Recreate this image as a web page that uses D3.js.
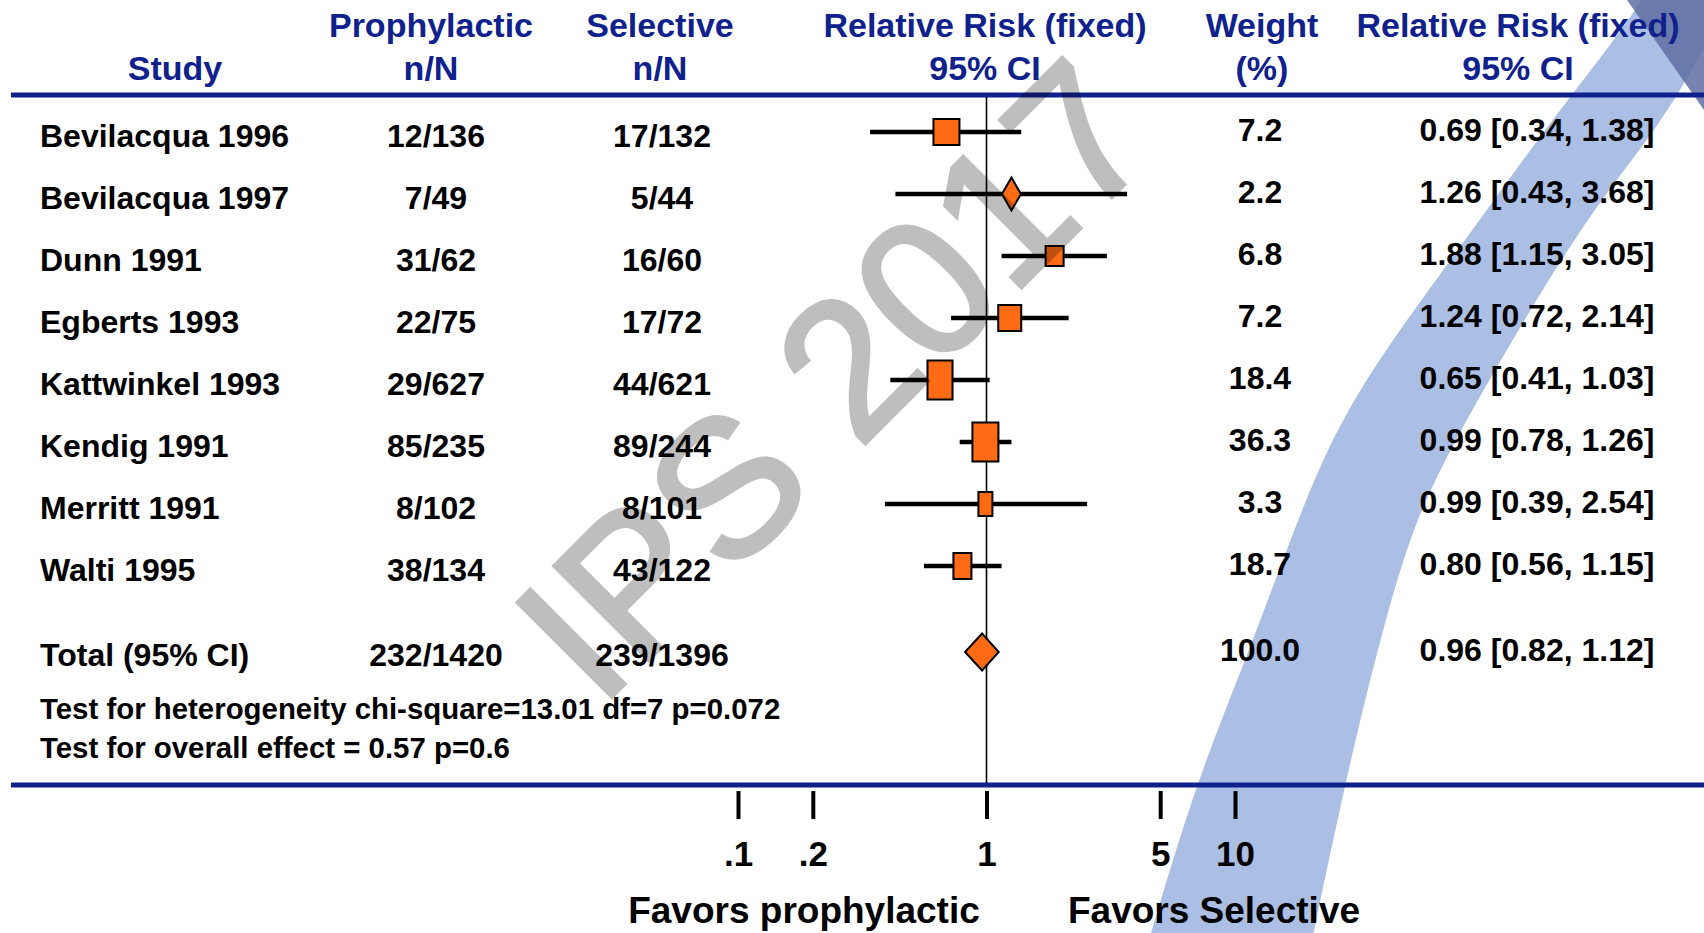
<!DOCTYPE html>
<html>
<head>
<meta charset="utf-8">
<script src="https://cdn.jsdelivr.net/npm/d3@7/dist/d3.min.js"></script>
<style>
	body { margin: 0; background: #fff; }
	svg { display: block; font-family: "Liberation Sans", Arial, sans-serif; font-weight: bold; }
</style>
</head>
<body>
<div id="forest"></div>
<script>
// Study data
var studies = ['Bevilacqua 1996', 'Bevilacqua 1997', 'Dunn 1991', 'Egberts 1993',
	'Kattwinkel 1993', 'Kendig 1991', 'Merritt 1991', 'Walti 1995'];
var prophylactic = ['12/136', '7/49', '31/62', '22/75', '29/627', '85/235', '8/102', '38/134'];
var selective = ['17/132', '5/44', '16/60', '17/72', '44/621', '89/244', '8/101', '43/122'];
var weights = [7.2, 2.2, 6.8, 7.2, 18.4, 36.3, 3.3, 18.7];
var rr = [0.69, 1.26, 1.88, 1.24, 0.65, 0.99, 0.99, 0.80];
var ciLow = [0.34, 0.43, 1.15, 0.72, 0.41, 0.78, 0.39, 0.56];
var ciHigh = [1.38, 3.68, 3.05, 2.14, 1.03, 1.26, 2.54, 1.15];

// Pooled row
var totalLabel = 'Total (95% CI)';
var totalProphylactic = '232/1420';
var totalSelective = '239/1396';
var totalWeight = 100.0;
var totalRR = [0.96, 0.82, 1.12];

var footnotes = ['Test for heterogeneity chi-square=13.01 df=7 p=0.072',
	'Test for overall effect = 0.57 p=0.6'];

// Axis ticks
var tickValues = [0.1, 0.2, 1, 5, 10];
var tickLabels = ['.1', '.2', '1', '5', '10'];

// Marker look per study (as drawn on the slide)
var markerShape = ['box', 'diamond', 'box', 'box', 'box', 'box', 'box', 'box'];
var markerW = [26, 19, 18, 23, 25, 26, 14, 18];
var markerH = [26, 33, 20, 26, 39, 39, 24, 26];

var fullWidth = 1704;
var fullHeight = 933;
var navy = '#0f218c';
var orange = '#ff6b14';

var svg = d3.select('#forest')
	.append('svg')
	.attr('width', fullWidth)
	.attr('height', fullHeight);

// Blue swoosh in the background
var swooshLeft = [[1149, 940], [1195, 785], [1250, 649], [1290, 540], [1330, 440], [1378, 360],
	[1436, 280], [1494, 200], [1552, 120], [1622, 30], [1645, -5]];
var swooshRight = [[1730, -5], [1704, 50], [1660, 125], [1600, 200], [1545, 285], [1495, 370],
	[1455, 440], [1415, 520], [1385, 620], [1350, 760], [1312, 940]];
var edge = d3.line().curve(d3.curveBasis);
svg.append('path')
	.attr('d', edge(swooshLeft) + edge(swooshRight).replace('M', 'L') + 'Z')
	.attr('fill', '#abbee4');
svg.append('path')
	.attr('d', 'M1627,0L1704,0L1704,110Z')
	.attr('fill', '#5f6ea3')
	.attr('opacity', 0.85);

// Scales
var xScale = d3.scaleLog()
	.domain([0.1, 10])
	.range([738, 1235]);
var rowY = d3.scaleLinear()
	.domain([0, studies.length - 1])
	.range([132, 566]);
var totalY = 652;

var col = {study: 40, pro: 436, sel: 662, weight: 1260, ci: 1537};

// Header
var header = svg.append('g').attr('fill', navy).attr('font-size', 34).attr('text-anchor', 'middle');
var headRows = [
	[['Prophylactic', 431], ['Selective', 660], ['Relative Risk (fixed)', 985], ['Weight', 1262], ['Relative Risk (fixed)', 1518]],
	[['Study', 175], ['n/N', 431], ['n/N', 660], ['95% CI', 985], ['(%)', 1262], ['95% CI', 1518]]
];
headRows.forEach(function(row, r) {
	row.forEach(function(h) {
		header.append('text').attr('x', h[1]).attr('y', r === 0 ? 37 : 80).text(h[0]);
	});
});

// Horizontal rules
svg.append('line').attr('x1', 11).attr('x2', fullWidth).attr('y1', 95).attr('y2', 95)
	.attr('stroke', navy).attr('stroke-width', 5);
svg.append('line').attr('x1', 11).attr('x2', fullWidth).attr('y1', 785).attr('y2', 785)
	.attr('stroke', navy).attr('stroke-width', 5);

// Line of no effect
svg.append('line')
	.attr('x1', xScale(1)).attr('x2', xScale(1))
	.attr('y1', 97).attr('y2', 783)
	.attr('stroke', '#000').attr('stroke-width', 1.6);

// Table body
var body = svg.append('g').attr('font-size', 32).attr('fill', '#000');
var fmt = function(v) { return v.toFixed(2); };

studies.forEach(function(s, i) {
	var y = rowY(i);
	body.append('text').attr('x', col.study).attr('y', y + 3).attr('dy', '0.36em').text(s);
	body.append('text').attr('x', col.pro).attr('y', y + 3).attr('dy', '0.36em').attr('text-anchor', 'middle').text(prophylactic[i]);
	body.append('text').attr('x', col.sel).attr('y', y + 3).attr('dy', '0.36em').attr('text-anchor', 'middle').text(selective[i]);
	body.append('text').attr('x', col.weight).attr('y', y - 3).attr('dy', '0.36em').attr('text-anchor', 'middle').text(weights[i].toFixed(1));
	body.append('text').attr('x', col.ci).attr('y', y - 3).attr('dy', '0.36em').attr('text-anchor', 'middle')
		.text(fmt(rr[i]) + ' [' + fmt(ciLow[i]) + ', ' + fmt(ciHigh[i]) + ']');
});

body.append('text').attr('x', col.study).attr('y', totalY + 2).attr('dy', '0.36em').text(totalLabel);
body.append('text').attr('x', col.pro).attr('y', totalY + 2).attr('dy', '0.36em').attr('text-anchor', 'middle').text(totalProphylactic);
body.append('text').attr('x', col.sel).attr('y', totalY + 2).attr('dy', '0.36em').attr('text-anchor', 'middle').text(totalSelective);
body.append('text').attr('x', col.weight).attr('y', totalY - 3).attr('dy', '0.36em').attr('text-anchor', 'middle').text(totalWeight.toFixed(1));
body.append('text').attr('x', col.ci).attr('y', totalY - 3).attr('dy', '0.36em').attr('text-anchor', 'middle')
	.text(fmt(totalRR[0]) + ' [' + fmt(totalRR[1]) + ', ' + fmt(totalRR[2]) + ']');

footnotes.forEach(function(t, i) {
	body.append('text').attr('x', col.study).attr('y', 708 + i * 39).attr('dy', '0.36em')
		.attr('font-size', 29.4).text(t);
});

// Confidence intervals
var g = svg.append('g');
g.selectAll('line.ci')
	.data(studies)
	.enter()
	.append('line')
	.attr('class', 'ci')
	.attr('x1', function(d, i) { return xScale(ciLow[i]); })
	.attr('x2', function(d, i) { return xScale(ciHigh[i]); })
	.attr('y1', function(d, i) { return rowY(i); })
	.attr('y2', function(d, i) { return rowY(i); })
	.attr('stroke', '#000')
	.attr('stroke-width', 4.5);

// Point estimates
g.selectAll('path.est')
	.data(studies)
	.enter()
	.append('path')
	.attr('class', 'est')
	.attr('d', function(d, i) {
		var cx = xScale(rr[i]), cy = rowY(i), w = markerW[i] / 2, h = markerH[i] / 2;
		if (markerShape[i] === 'diamond') {
			return 'M' + (cx - w) + ',' + cy + 'L' + cx + ',' + (cy - h) + 'L' + (cx + w) + ',' + cy + 'L' + cx + ',' + (cy + h) + 'Z';
		}
		return 'M' + (cx - w) + ',' + (cy - h) + 'H' + (cx + w) + 'V' + (cy + h) + 'H' + (cx - w) + 'Z';
	})
	.attr('fill', orange)
	.attr('stroke', '#000')
	.attr('stroke-width', 2);

// Pooled diamond
g.append('path')
	.attr('d', 'M' + xScale(totalRR[1]) + ',' + totalY + 'L' + xScale(totalRR[0]) + ',' + (totalY - 18.5) +
		'L' + xScale(totalRR[2]) + ',' + totalY + 'L' + xScale(totalRR[0]) + ',' + (totalY + 18.5) + 'Z')
	.attr('fill', orange)
	.attr('stroke', '#000')
	.attr('stroke-width', 2);

// Log axis
var axis = d3.axisBottom(xScale)
	.tickValues(tickValues)
	.tickFormat(function(d, i) { return tickLabels[i]; })
	.tickSize(28)
	.tickPadding(22);
var gAxis = svg.append('g')
	.attr('transform', 'translate(0,791)')
	.call(axis);
gAxis.select('.domain').remove();
gAxis.selectAll('.tick line').attr('stroke', '#000').attr('stroke-width', 4);
gAxis.selectAll('.tick text')
	.attr('fill', '#000')
	.attr('font-size', 35)
	.attr('font-family', '"Liberation Sans", Arial, sans-serif')
	.attr('font-weight', 'bold');

svg.append('text').attr('x', 804).attr('y', 910).attr('dy', '0.36em').attr('text-anchor', 'middle')
	.attr('font-size', 37).text('Favors prophylactic');
svg.append('text').attr('x', 1214).attr('y', 910).attr('dy', '0.36em').attr('text-anchor', 'middle')
	.attr('font-size', 37).text('Favors Selective');

// Watermark
svg.append('g')
	.attr('opacity', 0.25)
	.attr('transform', 'translate(832,378) rotate(-45)')
	.append('text')
	.attr('text-anchor', 'middle')
	.attr('dy', '0.36em')
	.attr('font-size', 194)
	.attr('font-weight', 'normal')
	.attr('fill', '#000')
	.attr('stroke', '#000')
	.attr('stroke-width', 4)
	.text('IPS 2017');
</script>
</body>
</html>
